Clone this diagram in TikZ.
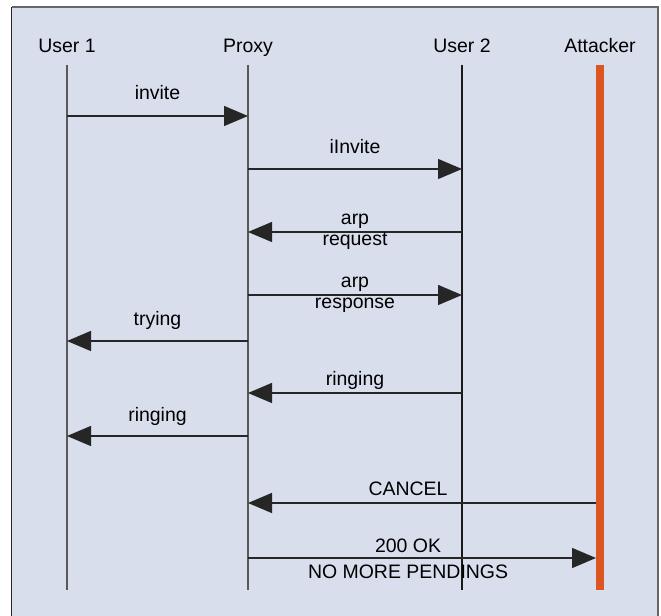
\documentclass[tikz,border=0pt]{standalone}
\usepackage{fontspec}
\setmainfont{Liberation Sans}
\usetikzlibrary{arrows.meta}
\definecolor{panel}{RGB}{217,222,237}
\definecolor{attackred}{RGB}{221,85,32}
\tikzset{
  msg/.style={draw=black!85, line width=1pt, -{Triangle[length=18pt,width=15pt]}},
  life/.style={draw=black!65, line width=1.1pt},
  lbl/.style={font=\fontsize{14.6}{16}\selectfont, inner sep=0pt, anchor=base},
}
\begin{document}
\begin{tikzpicture}[x=0.75pt,y=-0.75pt]
      \useasboundingbox (0,0) rectangle (661,616);
      \fill[white] (0,0) rectangle (661,616);
      \fill[panel] (11.5,7) rectangle (658,616);
      \draw[black!60, line width=1.1pt] (658,616) -- (658,7) -- (11.5,7);
      \draw[black!85, line width=1.1pt] (11.5,616) -- (11.5,7);
      \draw
        (67,53) node[lbl] (u1){User 1}
        (248,53) node[lbl] (px){Proxy}
        (462,53) node[lbl] (u2){User 2}
        (600,53) node[lbl] (att){Attacker};
      \coordinate (u1end) at (67,590);
      \coordinate (pxend) at (248,590);
      \coordinate (u2end) at (462,590);
      \coordinate (attend) at (600,590);
      % lifelines
      \draw[life] (u1 |- 0,65) -- (u1end);
      \draw[life] (px |- 0,65) -- (pxend);
      \draw[life, draw=black!90, line width=0.8pt] (u2 |- 0,65) -- (u2end);
      \draw[attackred, line width=6pt] (att |- 0,65) -- (attend);
      % messages
      \begin{scope}[msg]
        \draw (u1 |- 0,116) -- node[lbl, yshift=12pt]{invite} (px |- 0,116);
        \draw (px |- 0,169) -- node[lbl, yshift=11.25pt]{iInvite} (u2 |- 0,169);
        \draw (u2 |- 0,232) -- node[lbl, yshift=5.25pt]{arp}
          node[lbl, yshift=-10.5pt]{request} (px |- 0,232);
        \draw (px |- 0,295) -- node[lbl, yshift=5.25pt]{arp}
          node[lbl, yshift=-10.5pt]{response} (u2 |- 0,295);
        \draw (px |- 0,341) -- node[lbl, yshift=11.25pt]{trying} (u1 |- 0,341);
        \draw (u2 |- 0,393) -- node[lbl, yshift=5.25pt]{ringing} (px |- 0,393);
        \draw (px |- 0,436) -- node[lbl, yshift=10.5pt]{ringing} (u1 |- 0,436);
        \draw (596,503) -- node[lbl, pos=0.54, yshift=5.25pt]{CANCEL} (px |- 0,503);
        \draw (px |- 0,558) -- node[lbl, pos=0.46, yshift=3.75pt]{200 OK}
          node[lbl, pos=0.46, yshift=-15.75pt]{NO MORE PENDINGS} (596,558);
      \end{scope}
    \end{tikzpicture}
\end{document}
